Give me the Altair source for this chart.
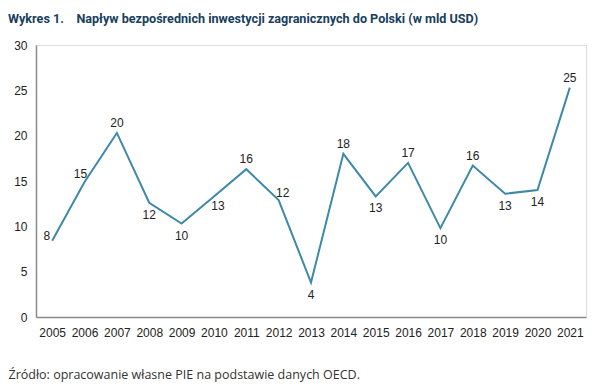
import altair as alt
import pandas as pd

years = [str(y) for y in range(2005, 2022)]
values = [8.4, 14.9, 20.3, 12.6, 10.3, 13.3, 16.3, 12.9, 3.8, 18.0, 13.3, 17.0, 9.8, 16.7, 13.6, 14.0, 25.3]
labels = ["8", "15", "20", "12", "10", "13", "16", "12", "4", "18", "13", "17", "10", "16", "13", "14", "25"]
placement = ["left", "upleft", "above", "below", "below", "downright", "above", "upright",
             "below", "above", "below", "above", "below", "above", "below", "below", "above"]

df = pd.DataFrame({"year": years, "value": values, "label": labels, "place": placement})

offsets = {
    "above": (0, -10),
    "below": (0, 12),
    "left": (-2, -5),
    "upleft": (-4, -8),
    "downright": (4, 10),
    "upright": (4, -7),
}

x_enc = alt.X("year:O", sort=years,
              scale=alt.Scale(type="point", padding=0.5),
              axis=alt.Axis(title="Źródło: opracowanie własne PIE na podstawie danych OECD.",
                            titleX=-28, titleY=61, titleAlign="left", titleAnchor="start",
                            titleBaseline="alphabetic",
                            titleFont="Open Sans", titleFontSize=12.5, titleFontWeight="normal",
                            titleColor="#333333",
                            labelAngle=0, labelPadding=10, labelFont="Liberation Sans",
                            labelFontSize=12, labelColor="#222222",
                            ticks=False, domainColor="#8a8a8a", domainWidth=1.5, grid=False))
y_enc = alt.Y("value:Q",
              scale=alt.Scale(domain=[0, 30], nice=False),
              axis=alt.Axis(title=None, values=[0, 5, 10, 15, 20, 25, 30], labelPadding=9,
                            labelFont="Liberation Sans", labelFontSize=12, labelColor="#222222",
                            ticks=False, domainColor="#8a8a8a", domainWidth=1.5, grid=False))

line = alt.Chart(df).mark_line(color="#3d8aa6", strokeWidth=2).encode(x=x_enc, y=y_enc)

text_layers = []
for name, (dx, dy) in offsets.items():
    align = "right" if name == "left" else "center"
    t = alt.Chart(df).transform_filter(alt.datum.place == name).mark_text(
        dx=dx, dy=dy, align=align, baseline="middle",
        font="Liberation Sans", fontSize=12, color="#222222"
    ).encode(x=alt.X("year:O", sort=years), y="value:Q", text="label:N")
    text_layers.append(t)

chart = alt.layer(line, *text_layers).properties(
    width=550, height=272,
    title=alt.TitleParams(
        "Wykres 1.\u00a0\u00a0\u00a0 Napływ bezpośrednich inwestycji zagranicznych do Polski (w mld USD)",
        anchor="start", frame="group", dx=-28, offset=13,
        font="Roboto", fontSize=12.6, fontWeight="bold", color="#17405e"),
    autosize=alt.AutoSizeParams(type="none"),
    padding={"left": 28, "top": 37, "right": 10, "bottom": 68},
).configure_view(stroke=None).configure(background="white")

chart.save("out.html", embed_options={"renderer": "svg", "actions": False})
